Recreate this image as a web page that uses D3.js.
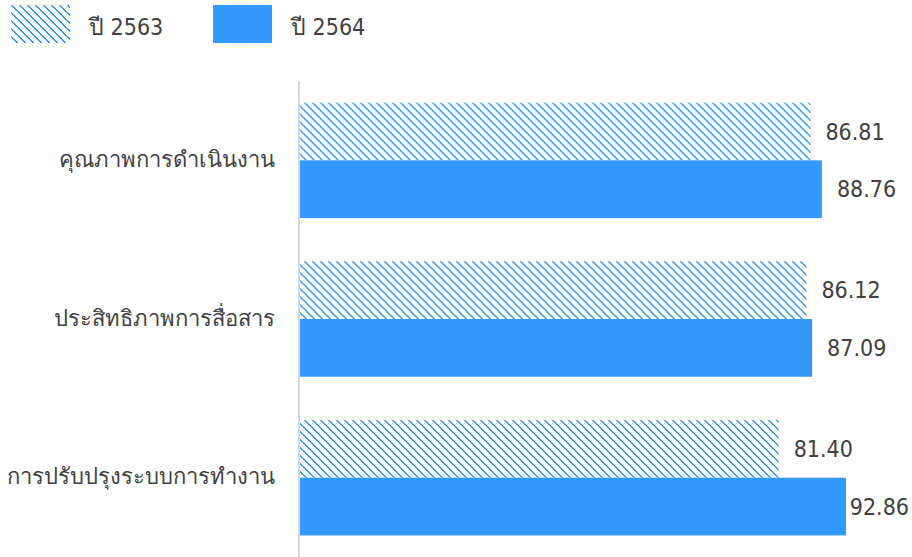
<!DOCTYPE html>
<html>
<head>
<meta charset="utf-8">
<script src="https://cdn.jsdelivr.net/npm/d3@7"></script>
<style>
    body { margin: 0; background: #fff; }
    svg text { font-family: Tahoma, "DejaVu Sans Condensed", "Noto Sans", sans-serif; fill: #404040; }
</style>
</head>
<body>
<div id="chart"></div>
<script>
(function() {
    var categories = ["คุณภาพการดำเนินงาน", "ประสิทธิภาพการสื่อสาร", "การปรับปรุงระบบการทำงาน"];
    var seriesNames = ["ปี 2563", "ปี 2564"];
    var values2563 = [86.81, 86.12, 81.40];
    var values2564 = [88.76, 87.09, 92.86];
    var blue = "#3399ff";

    var width = 912, height = 557;
    var margin = {top: 81, right: 24, bottom: 0, left: 300};

    var svg = d3.select("#chart").append("svg")
        .attr("width", width)
        .attr("height", height);

    // hatch pattern for 2563
    var pattern = svg.append("defs").append("pattern")
        .attr("id", "hatch")
        .attr("patternUnits", "userSpaceOnUse")
        .attr("width", 8)
        .attr("height", 8);
    pattern.selectAll("rect")
        .data(d3.range(8))
        .enter()
        .append("rect")
            .attr("x", function(d) { return d; })
            .attr("y", function(d) { return d; })
            .attr("width", 2)
            .attr("height", 1)
            .attr("shape-rendering", "crispEdges")
            .style("fill", blue);
    pattern.append("rect")
        .attr("x", 0)
        .attr("y", 7)
        .attr("width", 1)
        .attr("height", 1)
        .attr("shape-rendering", "crispEdges")
        .style("fill", blue);

    var fills = ["url(#hatch)", blue];

    var data = categories.map(function(c, i) {
        return {category: c, values: [values2563[i], values2564[i]]};
    });

    var x = d3.scaleLinear().domain([0, 100]).range([margin.left, margin.left + 588]);
    var y = d3.scaleBand().domain(categories).range([margin.top, height - margin.bottom])
        .paddingInner(0.272).paddingOuter(0.136);
    var ySub = d3.scaleBand().domain(seriesNames).range([0, y.bandwidth()]);

    // legend
    var legend = svg.append("g").classed("legend", true);
    var legendItems = legend.selectAll(".item")
        .data(seriesNames)
        .enter()
        .append("g")
            .classed("item", true)
            .attr("transform", function(d, i) { return "translate(" + (11 + i * 202) + ", 5)"; });
    legendItems.append("rect")
        .attr("width", 59)
        .attr("height", 38)
        .style("fill", function(d, i) { return fills[i]; });
    legendItems.append("text")
        .attr("x", 78)
        .attr("y", 30)
        .style("font-size", "23px")
        .text(function(d) { return d; });

    // bars
    var groups = svg.selectAll(".group")
        .data(data)
        .enter()
        .append("g")
            .classed("group", true)
            .attr("transform", function(d) { return "translate(0, " + y(d.category) + ")"; });

    groups.selectAll("rect")
        .data(function(d) { return d.values; })
        .enter()
        .append("rect")
            .attr("x", x(0))
            .attr("y", function(d, i) { return ySub(seriesNames[i]); })
            .attr("width", function(d) { return x(d) - x(0); })
            .attr("height", ySub.bandwidth())
            .style("fill", function(d, i) { return fills[i]; });

    groups.selectAll(".value-label")
        .data(function(d) { return d.values; })
        .enter()
        .append("text")
            .classed("value-label", true)
            .attr("y", function(d, i) { return ySub(seriesNames[i]) + ySub.bandwidth() / 2; })
            .attr("dy", "0.36em")
            .style("font-size", "23px")
            .text(function(d) { return d.toFixed(2); })
            .attr("x", function(d) {
                var w = this.getComputedTextLength();
                return Math.min(x(d) + 15, width - 3 - w);
            });

    // category axis line
    svg.append("line")
        .attr("x1", x(0) - 1)
        .attr("x2", x(0) - 1)
        .attr("y1", margin.top)
        .attr("y2", height)
        .style("stroke", "#d9d9d9")
        .style("stroke-width", 2);

    svg.selectAll(".cat-label")
        .data(categories)
        .enter()
        .append("text")
            .classed("cat-label", true)
            .attr("x", 275)
            .attr("y", function(d) { return y(d) + y.bandwidth() / 2; })
            .attr("dy", "0.3em")
            .attr("text-anchor", "end")
            .style("font-size", "22px")
            .text(function(d) { return d; });
})();
</script>
</body>
</html>
